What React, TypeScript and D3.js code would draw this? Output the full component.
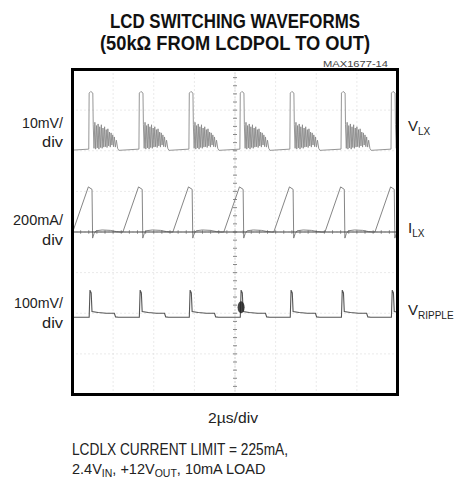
import * as d3 from "d3";

// ---- data read from the scope shot ----
// switching edges (us) - one VLX pulse / ILX drop / ripple spike each
const spikeTimes = [-1.6, 0.86, 3.33, 5.79, 8.3, 10.76, 13.28, 15.74];

// trace levels on screen (divisions from centre)
const vlxLevel = 2.04;
const ilxLevel = 0;
const rippleLevel = -2.0;

// one switching cycle per trace: [us after edge, divisions above level]
const vlxCycle: [number, number][] = [
  [-0.06, 0], [-0.04, 1.38], [0.04, 1.42], [0.14, 1.38], [0.16, 0.6],
  [0.2, 0.02], [0.24, 0.66], [0.28, 0.0], [0.32, 0.58], [0.36, 0.03],
  [0.4, 0.62], [0.44, 0.0], [0.48, 0.55], [0.52, 0.04], [0.56, 0.6],
  [0.6, 0.02], [0.64, 0.52], [0.68, 0.05], [0.72, 0.55], [0.76, 0.06],
  [0.8, 0.48], [0.84, 0.04], [0.88, 0.5], [0.92, 0.08], [0.96, 0.42],
  [1.0, 0.05], [1.04, 0.4], [1.08, 0.1], [1.12, 0.35], [1.16, 0.06],
  [1.2, 0.3], [1.25, 0.05], [1.3, 0.22], [1.36, 0.02], [1.42, -0.03],
];
const ilxCycle: [number, number][] = [
  [-0.85, 0], [-0.08, 1.11], [0.1, 1.05], [0.13, -0.15], [0.2, -0.04],
  [0.3, 0.03], [0.6, 0.05], [1.0, 0.04], [1.3, 0.01], [1.5, 0],
];
const rippleCycle: [number, number][] = [
  [-0.04, -0.1], [0.0, 0.57], [0.06, 0.5], [0.1, 0.04], [0.4, 0.02],
  [0.8, 0.0], [1.2, 0.0], [1.26, -0.09], [1.4, -0.1],
];

const leftLabels = [["10mV/", "div"], ["200mA/", "div"], ["100mV/", "div"]];
const rightLabels = [["V", "LX"], ["I", "LX"], ["V", "RIPPLE"]];
const titleLines = ["LCD SWITCHING WAVEFORMS", "(50kΩ FROM LCDPOL TO OUT)"];

// ---- layout ----
const W = 460;
const H = 480;
const box = { left: 72.5, top: 69.5, right: 397.5, bottom: 394.5 };
const leftLabelY = [[128, 147], [225, 245], [308, 328]];
const leftLabelW = [[41, 21], [50, 21], [49, 21]];
const rightLabelY = [131, 233, 315];
const font = "'Liberation Sans', Arial, Helvetica, sans-serif";

const x = d3.scaleLinear().domain([0, 16]).range([box.left, box.right]);
const y = d3.scaleLinear().domain([-4, 4]).range([box.bottom, box.top]);

const line = d3
  .line<[number, number]>()
  .x((d) => x(d[0]))
  .y((d) => y(d[1]));

function buildTrace(cycle: [number, number][], level: number): [number, number][] {
  const pts: [number, number][] = [];
  spikeTimes.forEach((t0) => {
    cycle.forEach(([dt, v]) => pts.push([t0 + dt, level + v]));
  });
  return pts;
}

export default function App() {
  const grid = d3.range(1, 8);
  const minorTicks = d3.range(0, 40.01, 1).map((d) => d / 5 - 4);

  return (
    <svg
      width={W}
      height={H}
      style={{ position: "absolute", left: 0, top: 0, background: "#fff" }}
      fontFamily={font}
    >
      <defs>
        <clipPath id="scr">
          <rect x={box.left} y={box.top} width={box.right - box.left} height={box.bottom - box.top} />
        </clipPath>
      </defs>

      {/* title */}
      {titleLines.map((t, i) => (
        <text key={t} x={235} y={28 + i * 22} textAnchor="middle" fontSize={20} fontWeight="bold" fill="#111"
          textLength={i === 0 ? 250 : 270} lengthAdjust="spacingAndGlyphs">
          {t}
        </text>
      ))}
      <text x={388} y={67} textAnchor="end" fontSize={9.5} fill="#444" textLength={65} lengthAdjust="spacingAndGlyphs">
        MAX1677-14
      </text>

      {/* graticule */}
      <g clipPath="url(#scr)">
        {grid.map((g) => (
          <g key={g}>
            <line x1={x(g * 2)} x2={x(g * 2)} y1={box.top} y2={box.bottom} stroke="#d4d4d4" strokeDasharray="1 3" />
            <line x1={box.left} x2={box.right} y1={y(g - 4)} y2={y(g - 4)} stroke="#d4d4d4" strokeDasharray="1 3" />
          </g>
        ))}
        <line x1={x(8)} x2={x(8)} y1={box.top} y2={box.bottom} stroke="#bbb" strokeDasharray="1 2" />
        {minorTicks.map((d) => (
          <g key={d}>
            <line x1={x(8) - 2} x2={x(8) + 2} y1={y(d)} y2={y(d)} stroke="#888" />
            <line x1={x((d + 4) * 2)} x2={x((d + 4) * 2)} y1={y(0) - 2} y2={y(0) + 2} stroke="#aaa" />
          </g>
        ))}

        {/* traces */}
        <path d={line(buildTrace(vlxCycle, vlxLevel)) ?? ""} fill="none" stroke="#8a8a8a" strokeWidth={0.9} />
        <path d={line(buildTrace(ilxCycle, ilxLevel)) ?? ""} fill="none" stroke="#777" strokeWidth={0.9} />
        <line x1={box.left} x2={box.right} y1={y(ilxLevel)} y2={y(ilxLevel)} stroke="#444" strokeWidth={1.2} />
        <path d={line(buildTrace(rippleCycle, rippleLevel)) ?? ""} fill="none" stroke="#555" strokeWidth={1.1} />
        <ellipse cx={x(spikeTimes[4])} cy={y(rippleLevel + 0.15)} rx={3.5} ry={6} fill="#222" opacity={0.85} />
      </g>

      <rect x={box.left} y={box.top} width={box.right - box.left} height={box.bottom - box.top}
        fill="none" stroke="#000" strokeWidth={3} />

      {/* channel scales */}
      {leftLabels.map((l, i) =>
        l.map((t, j) => (
          <text key={i + "-" + j} x={63} y={leftLabelY[i][j]} textAnchor="end" fontSize={15} fill="#222"
            textLength={leftLabelW[i][j]} lengthAdjust="spacingAndGlyphs">
            {t}
          </text>
        ))
      )}
      {rightLabels.map(([main, sub], i) => (
        <text key={i} x={408} y={rightLabelY[i]} fontSize={15} fill="#222">
          {main}
          <tspan fontSize={10} dy={4}>{sub}</tspan>
        </text>
      ))}

      {/* footer */}
      <text x={233} y={423} textAnchor="middle" fontSize={15} fill="#222" textLength={50} lengthAdjust="spacingAndGlyphs">
        2µs/div
      </text>
      <text x={72} y={455} fontSize={16} fill="#222" textLength={216} lengthAdjust="spacingAndGlyphs">
        LCDLX CURRENT LIMIT = 225mA,
      </text>
      <text x={72} y={474} fontSize={14.5} fill="#222">
        2.4V<tspan fontSize={10.5} dy={3}>IN</tspan>
        <tspan dy={-3}>, +12V</tspan>
        <tspan fontSize={10.5} dy={3}>OUT</tspan>
        <tspan dy={-3}>, 10mA LOAD</tspan>
      </text>
    </svg>
  );
}
